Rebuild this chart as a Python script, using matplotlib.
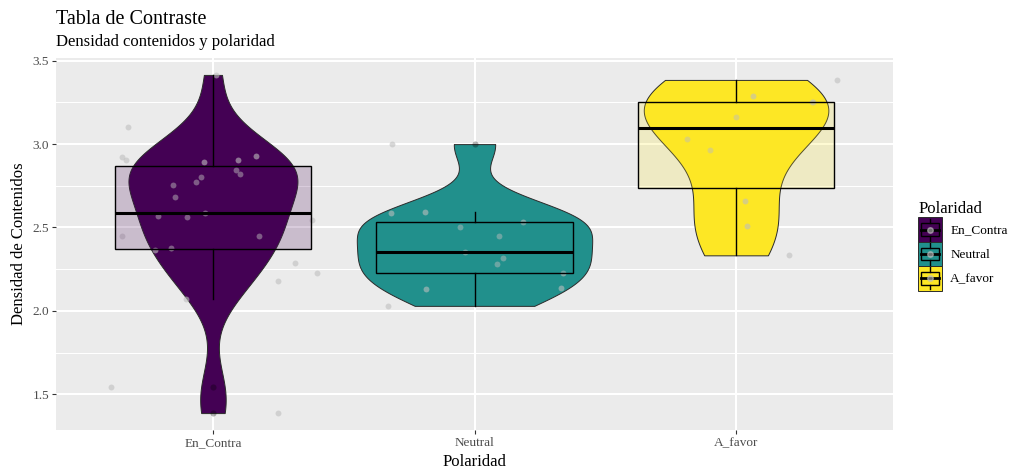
import numpy as np
import matplotlib
matplotlib.use("Agg")
import matplotlib.pyplot as plt
from matplotlib.patches import Rectangle
from matplotlib.lines import Line2D
from matplotlib.legend_handler import HandlerBase

# ---- data -------------------------------------------------------------
categories = ["En_Contra", "Neutral", "A_favor"]
colors = ["#440154", "#21908C", "#FDE725"]

en_contra = [3.415, 3.105, 2.924, 2.903, 2.895, 2.905, 2.927, 2.843, 2.820,
             2.804, 2.770, 2.756, 2.683, 2.567, 2.564, 2.585, 2.542, 2.450,
             2.446, 2.365, 2.375, 2.286, 2.226, 2.179, 2.071, 1.543, 1.387]
en_contra_jitter = [0.01, -0.326, -0.349, -0.334, -0.033, 0.094, 0.163, 0.090,
                    0.104, -0.046, -0.065, -0.153, -0.144, -0.210, -0.100,
                    -0.032, 0.378, -0.349, 0.175, -0.220, -0.160, 0.315, 0.396,
                    0.248, -0.102, -0.390, 0.247]

neutral = [3.000, 2.585, 2.593, 2.504, 2.534, 2.450, 2.355, 2.315, 2.280,
           2.226, 2.137, 2.133, 2.030]
neutral_jitter = [-0.317, -0.320, -0.190, -0.055, 0.185, 0.093, -0.036, 0.110,
                  0.085, 0.340, 0.330, -0.186, -0.329]

a_favor = [3.385, 3.288, 3.252, 3.255, 3.163, 3.030, 2.966, 2.659, 2.510, 2.333]
a_favor_jitter = [0.387, 0.065, 0.295, 0.290, 0.000, -0.188, -0.100, 0.036,
                  0.041, 0.204]

groups = [en_contra, neutral, a_favor]
jitters = [en_contra_jitter, neutral_jitter, a_favor_jitter]
yticks = [1.5, 2.0, 2.5, 3.0, 3.5]

title = "Tabla de Contraste"
subtitle = "Densidad contenidos y polaridad"
xlabel = "Polaridad"
ylabel = "Densidad de Contenidos"
legend_title = "Polaridad"

# ---- helpers ----------------------------------------------------------
def bw_nrd0(x):
    x = np.asarray(x, float)
    sd = np.std(x, ddof=1)
    q1, q3 = np.percentile(x, [25, 75])
    lo = min(sd, (q3 - q1) / 1.34)
    return 0.9 * lo * len(x) ** (-0.2)


def kde(x, grid):
    x = np.asarray(x, float)
    bw = bw_nrd0(x)
    z = (grid[:, None] - x[None, :]) / bw
    return np.exp(-0.5 * z ** 2).sum(axis=1) / (len(x) * bw * np.sqrt(2 * np.pi))


plt.rcParams["font.family"] = ["Liberation Serif", "DejaVu Serif"]

fig = plt.figure(figsize=(10.11, 4.70), dpi=100)
ax = fig.add_axes([56 / 1011, 1 - 430 / 470, (893 - 56) / 1011, (430 - 58) / 470])

ax.set_facecolor("#EBEBEB")
for s in ax.spines.values():
    s.set_visible(False)

positions = np.arange(1, len(categories) + 1)

# violins, scaled so every group has the same area
grids, dens = [], []
for vals in groups:
    g = np.linspace(min(vals), max(vals), 512)
    grids.append(g)
    dens.append(kde(vals, g))
gmax = max(d.max() for d in dens)

for pos, g, d, col in zip(positions, grids, dens, colors):
    hw = 0.45 * d / gmax
    ax.fill_betweenx(g, pos - hw, pos + hw, facecolor=col, edgecolor="#2b2b2b",
                     linewidth=0.7, zorder=2)

# jittered observations
for pos, vals, jit in zip(positions, groups, jitters):
    ax.scatter(pos + np.asarray(jit), vals, s=18, color="#BEBEBE", alpha=0.6,
               linewidths=0, zorder=3)

# boxplots
bp = ax.boxplot(groups, positions=positions, widths=0.75, whis=1.5,
                patch_artist=True, showcaps=False, manage_ticks=False,
                medianprops=dict(color="black", linewidth=2.2),
                whiskerprops=dict(color="black", linewidth=1.0),
                boxprops=dict(edgecolor="black", linewidth=1.0),
                flierprops=dict(marker="o", markerfacecolor="black",
                                markeredgecolor="none", markersize=4.4,
                                alpha=0.3),
                zorder=4)
for patch, col in zip(bp["boxes"], colors):
    patch.set_facecolor(matplotlib.colors.to_rgba(col, 0.2))
    patch.set_edgecolor("black")

# ticks first, then limits (setting ticks may widen the view)
ax.set_yticks(yticks)
ax.set_yticklabels([f"{t:.1f}" for t in yticks])
ax.set_yticks(np.arange(1.25, 3.76, 0.5), minor=True)
ax.set_xticks(positions)
ax.set_xticklabels(categories)

allv = np.concatenate([np.asarray(v) for v in groups])
rng = allv.max() - allv.min()
ax.set_ylim(allv.min() - 0.05 * rng, allv.max() + 0.05 * rng)
ax.set_xlim(0.4, len(categories) + 0.6)

ax.grid(which="major", color="white", linewidth=1.5, zorder=0)
ax.grid(which="minor", axis="y", color="white", linewidth=0.75, zorder=0)
ax.set_axisbelow(True)
ax.tick_params(which="major", length=3, width=0.8, color="#333333",
               labelcolor="#4D4D4D", labelsize=9.5, pad=2)
ax.tick_params(which="minor", length=0)

ax.set_xlabel(xlabel, fontsize=12, labelpad=3.5)
ax.set_ylabel(ylabel, fontsize=12, labelpad=4)

fig.text(56 / 1011, 1 - 24 / 470, title, fontsize=14.5, va="baseline", ha="left")
fig.text(56 / 1011, 1 - 46 / 470, subtitle, fontsize=12, va="baseline", ha="left")


# legend key combining violin, boxplot and point glyphs
class KeyHandler(HandlerBase):
    def __init__(self, color):
        super().__init__(xpad=0.0, ypad=0.0)
        self.color = color

    def create_artists(self, legend, orig_handle, xdescent, ydescent, width,
                       height, fontsize, trans):
        x0, y0 = -xdescent, -ydescent
        arts = [Rectangle((x0, y0), width, height, facecolor=self.color,
                          edgecolor="#2b2b2b", linewidth=0.7, transform=trans)]
        arts.append(Rectangle((x0 + 0.125 * width, y0 + 0.25 * height),
                              0.75 * width, 0.5 * height,
                              facecolor=matplotlib.colors.to_rgba(self.color, 0.2),
                              edgecolor="black", linewidth=1.0, transform=trans))
        arts.append(Line2D([x0 + 0.125 * width, x0 + 0.875 * width],
                           [y0 + 0.5 * height] * 2, color="black", lw=2.0,
                           transform=trans))
        for a, b in [(0.05, 0.25), (0.75, 0.95)]:
            arts.append(Line2D([x0 + 0.5 * width] * 2,
                               [y0 + a * height, y0 + b * height],
                               color="black", lw=1.0, transform=trans))
        arts.append(Line2D([x0 + 0.5 * width], [y0 + 0.5 * height], marker="o",
                           markersize=4, color="#BEBEBE", alpha=0.6,
                           linestyle="none", transform=trans))
        return arts


handles = [Rectangle((0, 0), 1, 1) for _ in categories]
leg = fig.legend(handles, categories, loc="center left",
                 bbox_to_anchor=(909 / 1011, 1 - 246 / 470),
                 frameon=False, fontsize=9.5, title=legend_title,
                 title_fontsize=12, alignment="left",
                 handlelength=1.82, handleheight=2.47, labelspacing=0.0,
                 handletextpad=0.6, borderpad=0.2,
                 handler_map={h: KeyHandler(c) for h, c in zip(handles, colors)})

fig.savefig("out.png", dpi=100, facecolor="white")
